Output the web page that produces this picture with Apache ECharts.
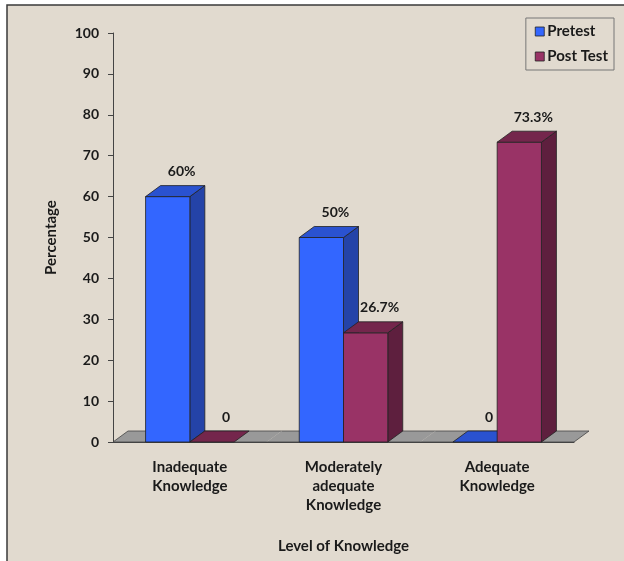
<html style="height: 100%">
<head>
	<meta charset="utf-8">
	<script type="text/javascript" src="https://cdn.jsdelivr.net/npm/echarts@6/dist/echarts.min.js"></script>
</head>

<body style="height: 100%; margin: 0; background: #fff">
	<div id="container" style="height:561px;width:624px"></div>
</body>

<script type="text/javascript">
	var dom = document.getElementById("container");
	var myChart = echarts.init(dom);

	// data
	let categories = ['Inadequate\nKnowledge', 'Moderately\nadequate\nKnowledge', 'Adequate\nKnowledge']
	let pretest = [60, 50, 0]
	let posttest = [0, 26.7, 73.3]
	let pretestLabels = ['60%', '50%', '0']
	let posttestLabels = ['0', '26.7%', '73.3%']
	let yTicks = [0, 10, 20, 30, 40, 50, 60, 70, 80, 90, 100]

	const FONT = 'Lato'
	const TXT = '#1a1a1a'
	const DX = 15, DY = -11

	// front / side / top colours for each series
	const colPre = { front: '#3366ff', side: '#2443a8', top: '#2a52d0' }
	const colPost = { front: '#993366', side: '#5e1f3e', top: '#74264c' }

	function bar3d(col, shift, labels) {
		return function (params, api) {
			let cat = api.value(0), val = api.value(1)
			let top = api.coord([cat, val])
			let base = api.coord([cat, 0])
			let band = api.size([1, 0])[0]
			let w = band * 0.288
			let x0 = top[0] + shift * w, x1 = x0 + w
			let yt = top[1], yb = base[1]
			let stroke = { stroke: '#222', lineWidth: 0.8, lineJoin: 'round' }
			let children = []
			if (yb - yt > 0.5) {
				children.push({ type: 'polygon', shape: { points: [[x1, yt], [x1 + DX, yt + DY], [x1 + DX, yb + DY], [x1, yb]] }, style: Object.assign({ fill: col.side }, stroke) })
				children.push({ type: 'rect', shape: { x: x0, y: yt, width: w, height: yb - yt }, style: Object.assign({ fill: col.front }, stroke) })
			}
			children.push({ type: 'polygon', shape: { points: [[x0, yt], [x0 + DX, yt + DY], [x1 + DX, yt + DY], [x1, yt]] }, style: Object.assign({ fill: col.top }, stroke) })
			children.push({
				type: 'text',
				style: {
					text: labels[params.dataIndex], x: (x0 + x1) / 2 + 14, y: yt + DY - 14,
					align: 'center', verticalAlign: 'middle',
					font: 'bold 14px ' + FONT, fill: TXT
				}
			})
			return { type: 'group', children: children }
		}
	}

	function floor(params, api) {
		let cat = api.value(0)
		let c = api.coord([cat, 0])
		let band = api.size([1, 0])[0]
		let xa = c[0] - band / 2, xb = c[0] + band / 2
		let y = c[1]
		let line = { stroke: '#444', lineWidth: 0.8 }
		let children = [
			{ type: 'polygon', shape: { points: [[xa, y], [xa + DX, y + DY], [xb + DX, y + DY], [xb, y]] }, style: { fill: '#999999' } },
			{ type: 'polyline', shape: { points: [[xa + DX, y + DY], [xb + DX, y + DY]] }, style: line },
			{ type: 'polyline', shape: { points: [[xa, y], [xb, y]] }, style: line }
		]
		if (params.dataIndex == 0) children.push({ type: 'polyline', shape: { points: [[xa, y], [xa + DX, y + DY]] }, style: line })
		if (params.dataIndex == categories.length - 1) children.push({ type: 'polyline', shape: { points: [[xb, y], [xb + DX, y + DY]] }, style: line })
		return { type: 'group', children: children }
	}

	var option = {
		animation: false,
		backgroundColor: 'transparent',
		textStyle: { fontFamily: FONT },
		graphic: [
			{
				type: 'rect', z: -10, silent: true,
				shape: { x: 7, y: 5, width: 640, height: 580 },
				style: { fill: '#e1dacf', stroke: '#3a3a3a', lineWidth: 1.5 }
			}
		],
		legend: {
			orient: 'vertical',
			right: 10, top: 18,
			padding: [6, 6, 6, 9],
			itemGap: 10,
			itemWidth: 9, itemHeight: 9,
			borderColor: '#777', borderWidth: 1,
			icon: 'rect',
			textStyle: { fontFamily: FONT, fontWeight: 'bold', fontSize: 15, color: TXT, padding: [0, 0, 0, -2] },
			data: [
				{ name: 'Pretest', itemStyle: { color: colPre.front, borderColor: '#222', borderWidth: 0.8 } },
				{ name: 'Post Test', itemStyle: { color: colPost.front, borderColor: '#222', borderWidth: 0.8 } }
			]
		},
		grid: { left: 113, right: 50, top: 33, bottom: 119, outerBoundsMode: 'none', containLabel: false },
		xAxis: {
			type: 'category',
			data: categories,
			name: 'Level of Knowledge',
			nameLocation: 'middle',
			nameGap: 97,
			nameTextStyle: { fontFamily: FONT, fontWeight: 'bold', fontSize: 15, color: TXT },
			axisLine: { lineStyle: { color: '#444', width: 1 } },
			axisTick: { length: 5, lineStyle: { color: '#444' } },
			axisLabel: { fontFamily: FONT, fontWeight: 'bold', fontSize: 15, color: TXT, lineHeight: 19, margin: 16 }
		},
		yAxis: {
			type: 'value',
			min: yTicks[0], max: yTicks[yTicks.length - 1], interval: 10,
			name: 'Percentage',
			nameLocation: 'middle',
			nameRotate: 90,
			nameGap: 54,
			nameTextStyle: { fontFamily: FONT, fontWeight: 'bold', fontSize: 15, color: TXT },
			axisLine: { show: true, lineStyle: { color: '#444', width: 1 } },
			axisTick: { show: true, length: 5, lineStyle: { color: '#444' } },
			splitLine: { show: false },
			axisLabel: { fontFamily: FONT, fontWeight: 'bold', fontSize: 14, color: TXT, margin: 14 }
		},
		series: [
			{
				name: 'floor', type: 'custom', z: 1, silent: true,
				renderItem: floor,
				data: categories.map((c, i) => [i, 0])
			},
			{
				name: 'Pretest', type: 'custom', z: 2,
				color: colPre.front,
				renderItem: bar3d(colPre, -1, pretestLabels),
				data: pretest.map((v, i) => [i, v])
			},
			{
				name: 'Post Test', type: 'custom', z: 3,
				color: colPost.front,
				renderItem: bar3d(colPost, 0, posttestLabels),
				data: posttest.map((v, i) => [i, v])
			}
		]
	};

	myChart.setOption(option);
</script>

</html>
